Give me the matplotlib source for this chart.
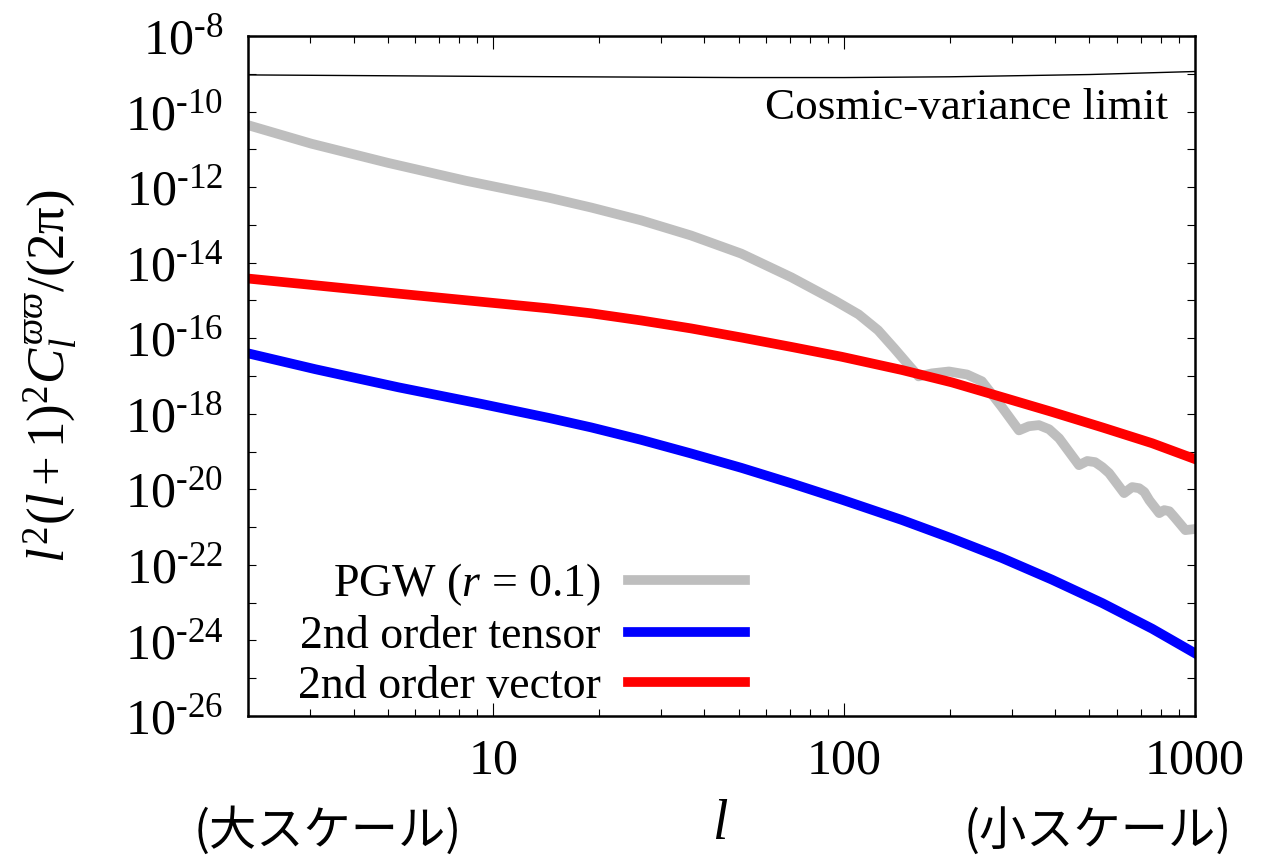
import numpy as np
import matplotlib
matplotlib.use("Agg")
import matplotlib.pyplot as plt
from matplotlib.ticker import FixedLocator, LogLocator, NullFormatter, FixedFormatter

plt.rcParams['font.family'] = ['Liberation Serif', 'DejaVu Serif']
plt.rcParams['mathtext.fontset'] = 'custom'
plt.rcParams['mathtext.rm'] = 'Liberation Serif'
plt.rcParams['mathtext.it'] = 'Liberation Serif:italic'
plt.rcParams['mathtext.bf'] = 'Liberation Serif:bold'

# multipole l and log10 of l^2(l+1)^2 C_l / 2pi
l_pgw = [2, 3.03, 5.02, 8.34, 14.4, 19.0, 26.4, 36.6, 50.9, 70.8, 93.9, 110,
         125, 139, 153, 163, 178, 199, 224, 247, 282, 315, 336, 359, 384, 410,
         467, 493, 519, 544, 569, 628, 662, 693, 717, 741, 791, 817, 845, 873,
         939, 1000]
log_pgw = [-10.36, -10.85, -11.36, -11.83, -12.28, -12.54, -12.88, -13.28,
           -13.76, -14.39, -15.00, -15.37, -15.79, -16.27, -16.72, -17.01,
           -16.93, -16.88, -16.96, -17.14, -17.83, -18.44, -18.33, -18.30,
           -18.41, -18.65, -19.36, -19.25, -19.28, -19.41, -19.57, -20.10,
           -19.94, -19.97, -20.07, -20.29, -20.63, -20.55, -20.58, -20.73,
           -21.08, -21.05]

l_vec = [2, 5.37, 14.4, 19.0, 26.4, 36.6, 50.9, 70.7, 98.3, 146, 203, 282,
         391, 544, 755, 1000]
log_vec = [-14.42, -14.82, -15.21, -15.34, -15.53, -15.74, -15.98, -16.23,
           -16.49, -16.84, -17.17, -17.56, -17.95, -18.36, -18.78, -19.20]

l_ten = [2, 3.11, 5.37, 9.27, 14.4, 19.0, 26.4, 36.6, 50.9, 70.7, 98.3, 146,
         203, 282, 391, 544, 755, 1000]
log_ten = [-16.40, -16.82, -17.30, -17.74, -18.11, -18.36, -18.69, -19.05,
           -19.43, -19.84, -20.27, -20.81, -21.30, -21.82, -22.39, -23.01,
           -23.69, -24.34]

l_cv = [2, 10, 50, 100, 200, 500, 1000]
log_cv = [-9.03, -9.07, -9.10, -9.10, -9.08, -9.02, -8.94]

fig = plt.figure(figsize=(12.61, 8.56), dpi=100)
ax = fig.add_axes([248/1261, 1-716/856, (1195-248)/1261, (716-36)/856])

ax.plot(l_cv, 10**np.array(log_cv), color='black', lw=1.0)
ax.plot(l_pgw, 10**np.array(log_pgw), color='#bebebe', lw=7, label=r'PGW ($r$ = 0.1)')
ax.plot(l_ten, 10**np.array(log_ten), color='#0000ff', lw=7, label='2nd order tensor')
ax.plot(l_vec, 10**np.array(log_vec), color='#ff0000', lw=7, label='2nd order vector')

ax.set_xscale('log')
ax.set_yscale('log')
ax.set_xlim(2, 1000)
ax.set_ylim(1e-26, 1e-8)

ax.xaxis.set_major_locator(FixedLocator([10, 100, 1000]))
ax.xaxis.set_minor_locator(LogLocator(base=10, subs=np.arange(2, 10)))
ax.xaxis.set_major_formatter(FixedFormatter(['10', '100', '1000']))
ax.xaxis.set_minor_formatter(NullFormatter())

yexp = list(range(-26, -7))
ax.yaxis.set_major_locator(FixedLocator([10.0**e for e in yexp]))
ax.yaxis.set_major_formatter(FixedFormatter(
    [r'$10^{\text{%d}}$' % e if e % 2 == 0 else '' for e in yexp]))
ax.yaxis.set_minor_locator(FixedLocator([]))

ax.tick_params(which='both', direction='in', top=True, right=True, width=0.8,
               labelsize=36)
ax.tick_params(axis='x', which='major', length=9.5, pad=16)
ax.tick_params(axis='x', which='minor', length=5)
ax.tick_params(axis='y', which='major', length=6, pad=18)
for s in ax.spines.values():
    s.set_linewidth(1.8)

ax.text(0.9715, 0.894, 'Cosmic-variance limit', transform=ax.transAxes,
        ha='right', va='center', fontsize=32.5)

leg = ax.legend(loc='upper right', bbox_to_anchor=(745/1261, 1-561/856),
                bbox_transform=fig.transFigure, frameon=False, fontsize=33,
                markerfirst=False, alignment='right', handlelength=2.55,
                handletextpad=0.6, labelspacing=0.17, borderpad=0, borderaxespad=0)

fig.text(51/1261, 1-376/856, r'$l^2(l+1)^2C_l^{\varpi\varpi}/(2\mathrm{\pi})$',
         rotation=90, ha='center', va='center', fontsize=38)
fig.text(720/1261, 1-825/856, r'$l$', ha='center', va='center', fontsize=40)
fig.text(328/1261, 1-832/856, '(大スケール)', ha='center', va='center', fontsize=34,
         family=['Noto Sans CJK JP', 'DejaVu Sans'])
fig.text(1098/1261, 1-832/856, '(小スケール)', ha='center', va='center', fontsize=34,
         family=['Noto Sans CJK JP', 'DejaVu Sans'])

fig.savefig('out.png', dpi=100)
